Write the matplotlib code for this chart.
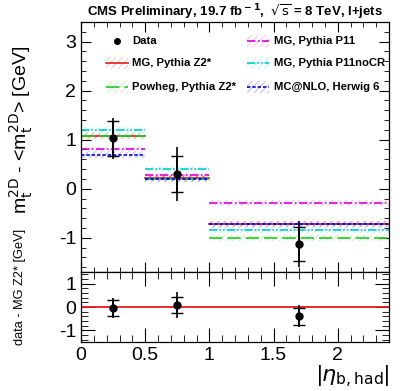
import matplotlib.pyplot as plt
from matplotlib.patches import Rectangle
from matplotlib.ticker import MultipleLocator

plt.rcParams['font.family'] = ['Liberation Sans', 'DejaVu Sans']
plt.rcParams['hatch.linewidth'] = 0.6
plt.rcParams['axes.unicode_minus'] = False

# bins in |eta_b,had|
edges = [0.0, 0.5, 1.0, 2.4]
x_data = [0.25, 0.75, 1.7]
y_data = [1.03, 0.30, -1.12]
err_stat = [0.36, 0.36, 0.35]
err_tot = [0.42, 0.56, 0.47]

models = ["MG, Pythia Z2*", "Powheg, Pythia Z2*", "MG, Pythia P11",
          "MG, Pythia P11noCR", "MC@NLO, Herwig 6"]
vals = {
    "MG, Pythia Z2*": [1.07, 0.21, -0.72],
    "Powheg, Pythia Z2*": [1.08, 0.20, -1.00],
    "MG, Pythia P11": [0.80, 0.27, -0.29],
    "MG, Pythia P11noCR": [1.19, 0.41, -0.85],
    "MC@NLO, Herwig 6": [0.69, 0.20, -0.72],
}
unc = [0.06, 0.06, 0.06]
colors = {
    "MG, Pythia Z2*": "#e41a1c",
    "Powheg, Pythia Z2*": "#22cc22",
    "MG, Pythia P11": "#dd00dd",
    "MG, Pythia P11noCR": "#00cccc",
    "MC@NLO, Herwig 6": "#0000ee",
}
styles = {
    "MG, Pythia Z2*": "-",
    "Powheg, Pythia Z2*": (0, (8, 3)),
    "MG, Pythia P11": (0, (5, 1.5, 1, 1.5)),
    "MG, Pythia P11noCR": (0, (5, 1.2, 1, 1.2, 1, 1.2)),
    "MC@NLO, Herwig 6": (0, (2, 1.2)),
}
diff = [y - m for y, m in zip(y_data, vals["MG, Pythia Z2*"])]

fig = plt.figure(figsize=(4.07, 3.91), dpi=100)
ax = fig.add_axes([0.199, 0.304, 0.757, 0.640])
ax2 = fig.add_axes([0.199, 0.125, 0.757, 0.179])

def style(a):
    a.tick_params(which='both', direction='in', top=True, right=True)
    a.tick_params(which='major', length=7, width=0.8, labelsize=14)
    a.tick_params(which='minor', length=3.5, width=0.6)
    a.xaxis.set_major_locator(MultipleLocator(0.5))
    a.xaxis.set_minor_locator(MultipleLocator(0.1))
    for s in a.spines.values():
        s.set_linewidth(0.9)

for m in models:
    for i in range(3):
        lo, hi = edges[i], edges[i + 1]
        ax.add_patch(Rectangle((lo, vals[m][i] - unc[i]), hi - lo, 2 * unc[i],
                               facecolor='none', edgecolor=colors[m], alpha=0.3,
                               hatch='/////', lw=0))
        ax.plot([lo, hi], [vals[m][i]] * 2, color=colors[m], ls=styles[m], lw=1.2)

ax.errorbar(x_data, y_data, yerr=err_tot, fmt='o', color='black', ms=5,
            elinewidth=1.2, capsize=0)
ax.errorbar(x_data, y_data, yerr=err_stat, fmt='none', ecolor='black',
            elinewidth=1.2, capsize=4, capthick=1.0)

style(ax)
ax.set_xlim(0, 2.4)
ax.set_ylim(-1.7, 3.4)
ax.yaxis.set_major_locator(MultipleLocator(1))
ax.yaxis.set_minor_locator(MultipleLocator(0.2))
ax.tick_params(labelbottom=False)
ax.set_ylabel(r"m$_{\rm t}^{\rm 2D}$ - <m$_{\rm t}^{\rm 2D}$> [GeV]", fontsize=14)
ax.yaxis.set_label_coords(-0.15, 0.57)
ax.set_title(r"CMS Preliminary, 19.7 fb$^{\bf -1}$,  $\sqrt{\rm s}$ = 8 TeV, l+jets",
             fontsize=9.5, fontweight='bold', pad=3)

# legend, drawn by hand
leg_pos = {
    "Data": (0.081, 0.925),
    "MG, Pythia Z2*": (0.081, 0.836),
    "Powheg, Pythia Z2*": (0.081, 0.741),
    "MG, Pythia P11": (0.539, 0.925),
    "MG, Pythia P11noCR": (0.539, 0.836),
    "MC@NLO, Herwig 6": (0.539, 0.741),
}
for name, (lx, ly) in leg_pos.items():
    if name == "Data":
        ax.plot([lx + 0.036], [ly], 'o', color='black', ms=4, transform=ax.transAxes)
    else:
        ax.add_patch(Rectangle((lx, ly - 0.024), 0.072, 0.048,
                               transform=ax.transAxes, facecolor='none',
                               edgecolor=colors[name], alpha=0.3, hatch='/////', lw=0))
        ax.plot([lx, lx + 0.072], [ly, ly], color=colors[name], ls=styles[name],
                lw=1.2, transform=ax.transAxes)
    ax.text(lx + 0.086, ly, name, transform=ax.transAxes, fontsize=8.1,
            fontweight='bold', va='center', ha='left')

# lower panel
ax2.axhline(0, color='#e41a1c', lw=1.3)
ax2.errorbar(x_data, diff, yerr=err_tot, fmt='o', color='black', ms=5,
             elinewidth=1.2, capsize=0)
ax2.errorbar(x_data, diff, yerr=err_stat, fmt='none', ecolor='black',
             elinewidth=1.2, capsize=4, capthick=1.0)
style(ax2)
ax2.set_xlim(0, 2.4)
ax2.set_ylim(-1.5, 1.5)
ax2.yaxis.set_major_locator(MultipleLocator(1))
ax2.yaxis.set_minor_locator(MultipleLocator(0.2))
ax2.tick_params(which='major', length=10)
ax2.tick_params(which='minor', length=5)
ax2.set_xticks([0, 0.5, 1, 1.5, 2])
ax2.set_xticklabels(["0", "0.5", "1", "1.5", "2"])
ax2.set_ylabel("data - MG Z2* [GeV]", fontsize=9.2)
ax2.yaxis.set_label_coords(-0.18, 0.79)
ax2.set_xlabel(r"|$\eta_{\rm b,had}$|", fontsize=16, loc='right', labelpad=0)

fig.savefig("out.png", dpi=100)
